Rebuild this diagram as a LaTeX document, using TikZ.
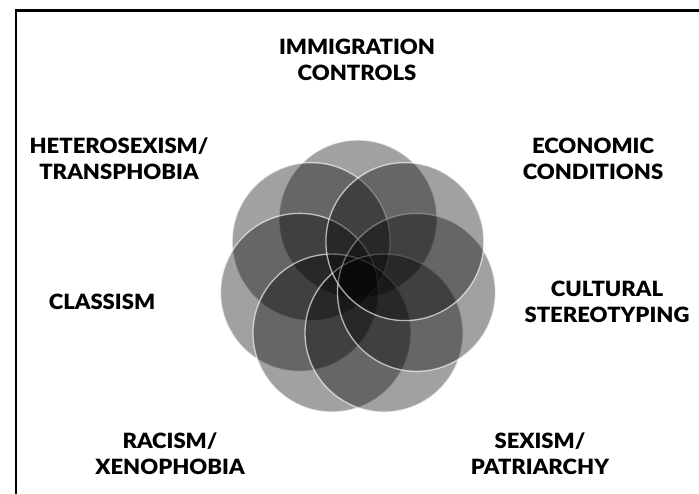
\documentclass[tikz,border=0pt]{standalone}
\usepackage{fontspec}
\setmainfont{Lato}[BoldFont={Lato Black},BoldFeatures={FakeStretch=1.05}]
\begin{document}
\begin{tikzpicture}[x=1pt,y=-1pt,
  lab/.style={align=center,inner sep=0pt,font=\bfseries\fontsize{21}{26.5}\selectfont},
  petal/.style={fill=black,fill opacity=0.37,draw=white,draw opacity=0.65,line width=1.3pt},
  frame/.style={line width=2.5pt,black}]
\useasboundingbox (0,0) rectangle (699,494);
% frame
\coordinate (fbl) at (16,500);
\coordinate (ftl) at (16,10.5);
\coordinate (ftr) at (705,10.5);
\draw[frame] (fbl) -- (ftl) -- (ftr);
% circles
\coordinate (c) at (358,279);
\foreach \a/\n in {90/p1,141.43/p2,192.86/p3,244.29/p4,295.71/p5,347.14/p6,38.57/p7}{
  \path[petal] ({358+60*cos(\a)},{279-60*sin(\a)}) circle[radius=79pt];
}
% labels
\node[lab] (imm) at (357,60) {IMMIGRATION\\CONTROLS};
\node[lab] (eco) at (593,159) {ECONOMIC\\CONDITIONS};
\node[lab] (cul) at (607,302) {CULTURAL\\STEREOTYPING};
\node[lab] (sex) at (540,453.5) {SEXISM/\\PATRIARCHY};
\node[lab] (rac) at (170,453.5) {RACISM/\\XENOPHOBIA};
\node[lab] (cla) at (102,302) {CLASSISM};
\node[lab] (het) at (119,158.5) {HETEROSEXISM/\\TRANSPHOBIA};
\end{tikzpicture}
\end{document}
